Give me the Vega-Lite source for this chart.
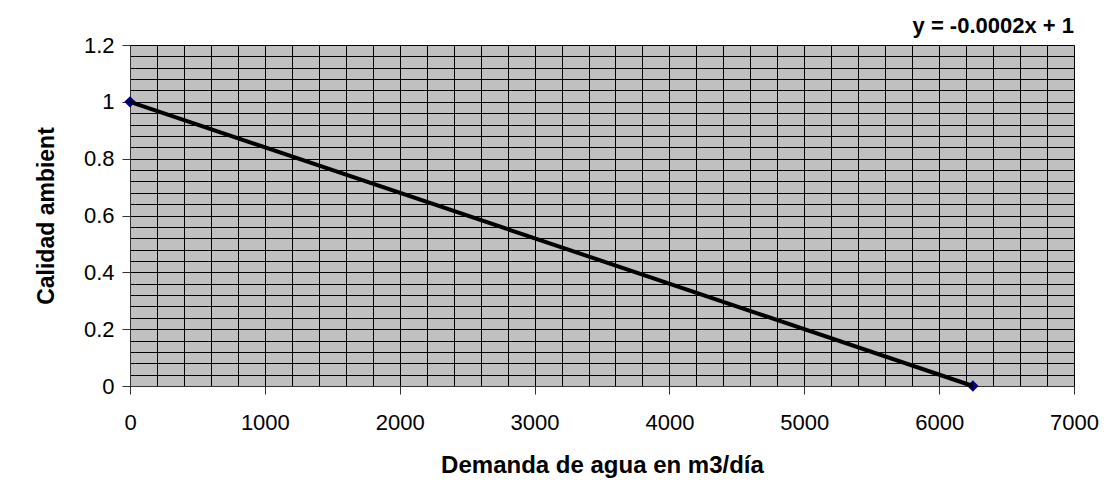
{
  "$schema": "https://vega.github.io/schema/vega-lite/v6.json",
  "width": 944,
  "height": 341,
  "autosize": {"type": "none"},
  "padding": {"left": 130, "top": 45, "right": 39, "bottom": 116},
  "background": "white",
  "title": {
    "text": "y = -0.0002x + 1",
    "anchor": "end",
    "frame": "group",
    "font": "Liberation Sans",
    "fontSize": 22,
    "fontWeight": "bold",
    "color": "black",
    "baseline": "alphabetic",
    "offset": -21
  },
  "data": {
    "values": [
      {"demanda": 0, "calidad": 1},
      {"demanda": 6250, "calidad": 0}
    ]
  },
  "encoding": {
    "x": {
      "field": "demanda",
      "type": "quantitative",
      "scale": {"domain": [0, 7000], "nice": false, "zero": false},
      "axis": {
        "title": "Demanda de agua en m3/día",
        "values": [0,200,400,600,800,1000,1200,1400,1600,1800,2000,2200,2400,2600,2800,3000,3200,3400,3600,3800,4000,4200,4400,4600,4800,5000,5200,5400,5600,5800,6000,6200,6400,6600,6800,7000],
        "labelExpr": "datum.value % 1000 === 0 ? datum.label : ''",
        "format": "d",
        "labelOverlap": false,
        "labelFlush": false,
        "grid": true,
        "gridColor": "black",
        "gridWidth": 1,
        "gridOpacity": 1,
        "tickSize": 8,
        "tickColor": "#333333",
        "tickOpacity": {"condition": {"test": "datum.value % 1000 === 0", "value": 1}, "value": 0},
        "domainColor": "#333333",
        "labelPadding": 18,
        "labelFont": "Liberation Sans",
        "labelFontSize": 22,
        "labelColor": "black",
        "titleFont": "Liberation Sans",
        "titleFontSize": 24,
        "titleFontWeight": "bold",
        "titleColor": "black",
        "titlePadding": 20
      }
    },
    "y": {
      "field": "calidad",
      "type": "quantitative",
      "scale": {"domain": [0, 1.2], "nice": false, "zero": false},
      "axis": {
        "title": "Calidad ambient",
        "values": [0,0.04,0.08,0.12,0.16,0.2,0.24,0.28,0.32,0.36,0.4,0.44,0.48,0.52,0.56,0.6,0.64,0.68,0.72,0.76,0.8,0.84,0.88,0.92,0.96,1,1.04,1.08,1.12,1.16,1.2],
        "labelExpr": "abs(datum.value * 5 - round(datum.value * 5)) < 0.000001 ? format(datum.value, '.1~f') : ''",
        "labelOverlap": false,
        "labelFlush": false,
        "grid": true,
        "gridColor": "black",
        "gridWidth": 1,
        "gridOpacity": 1,
        "tickSize": 8,
        "tickColor": "#333333",
        "tickOpacity": {"condition": {"test": "abs(datum.value * 5 - round(datum.value * 5)) < 0.000001", "value": 1}, "value": 0},
        "domainColor": "#333333",
        "labelPadding": 8,
        "labelFont": "Liberation Sans",
        "labelFontSize": 22,
        "labelColor": "black",
        "titleFont": "Liberation Sans",
        "titleFontSize": 23,
        "titleFontWeight": "bold",
        "titleColor": "black",
        "titlePadding": 25
      }
    }
  },
  "layer": [
    {
      "mark": {"type": "point", "shape": "diamond", "filled": true, "size": 130, "color": "#000080", "opacity": 1}
    },
    {
      "mark": {"type": "line", "color": "black", "strokeWidth": 4}
    }
  ],
  "config": {
    "view": {"fill": "#C0C0C0", "stroke": "#808080", "strokeWidth": 1}
  }
}
